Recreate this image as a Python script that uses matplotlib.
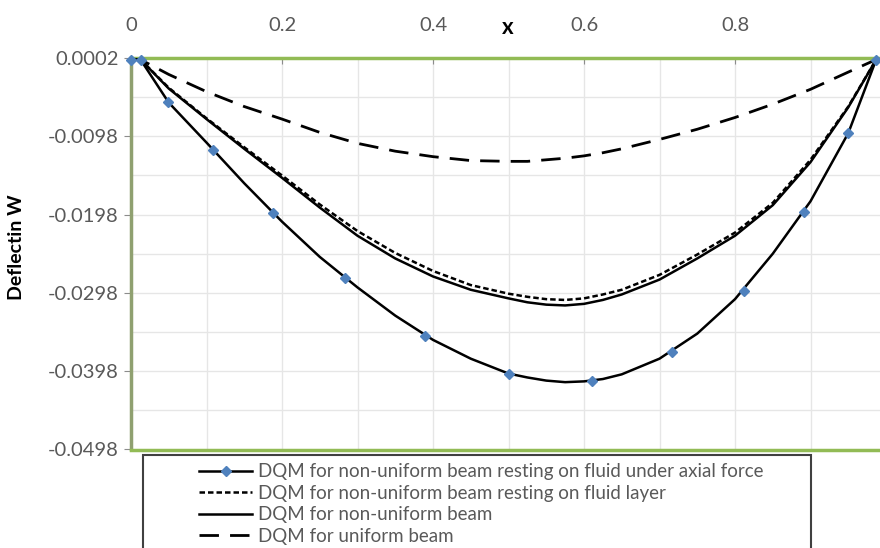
import numpy as np
import matplotlib
matplotlib.use('Agg')
import matplotlib.pyplot as plt
from matplotlib.lines import Line2D
from matplotlib.patches import Rectangle

# DQM grid points (markers of the axial force series)
x_nodes = [0.0, 0.0126, 0.0495, 0.109, 0.188, 0.283, 0.389, 0.5,
           0.611, 0.717, 0.812, 0.891, 0.950, 0.987, 1.0]
w_axial_nodes = [0.0, 0.0, -0.0054, -0.0115, -0.0196, -0.0279, -0.0353, -0.0401,
                 -0.0410, -0.0373, -0.0295, -0.0195, -0.0094, 0.0, 0.0]

# curves read along x
x_line = [0.0, 0.0126, 0.05, 0.1, 0.15, 0.2, 0.25, 0.3, 0.35, 0.4, 0.45, 0.5,
          0.525, 0.55, 0.575, 0.6, 0.625, 0.65, 0.7, 0.75, 0.8, 0.85, 0.9,
          0.95, 0.987, 1.0]
w_axial = [0.0, 0.0, -0.0055, -0.0106, -0.0158, -0.0207, -0.0252, -0.0291, -0.0327,
           -0.0358, -0.0382, -0.0401, -0.0406, -0.0410, -0.0412, -0.0411, -0.0408,
           -0.0402, -0.0382, -0.0350, -0.0306, -0.0248, -0.0181, -0.0094, 0.0, 0.0]
w_fluid = [0.0, 0.0, -0.0036, -0.0075, -0.0112, -0.0148, -0.0185, -0.0219, -0.0247,
           -0.0270, -0.0288, -0.0299, -0.0303, -0.0306, -0.0307, -0.0305, -0.0300,
           -0.0294, -0.0275, -0.0249, -0.0221, -0.0183, -0.0128, -0.0060, 0.0, 0.0]
w_nonuni = [0.0, 0.0, -0.0037, -0.0076, -0.0114, -0.0151, -0.0189, -0.0225, -0.0254,
            -0.0277, -0.0294, -0.0305, -0.0310, -0.0313, -0.0314, -0.0312, -0.0307,
            -0.0300, -0.0281, -0.0254, -0.0225, -0.0186, -0.0131, -0.0061, 0.0, 0.0]
w_uniform = [0.0, 0.0, -0.0019, -0.0041, -0.0060, -0.0076, -0.0093, -0.0107, -0.0117,
             -0.0124, -0.0129, -0.0130, -0.0130, -0.0128, -0.0126, -0.0123, -0.0119,
             -0.0114, -0.0102, -0.0089, -0.0074, -0.0057, -0.0038, -0.0016, 0.0, 0.0]

labels = ['DQM for non-uniform beam resting on fluid under axial force',
          'DQM for non-uniform beam resting on fluid layer',
          'DQM for non-uniform beam',
          'DQM for uniform beam']

x_ticks = [0, 0.2, 0.4, 0.6, 0.8, 1]
x_ticklabels = ['0', '0.2', '0.4', '0.6', '0.8', '1']
y_ticks = [0.0002, -0.0098, -0.0198, -0.0298, -0.0398, -0.0498]
y_ticklabels = ['0.0002', '-0.0098', '-0.0198', '-0.0298', '-0.0398', '-0.0498']

plt.rcParams['font.family'] = ['Lato', 'DejaVu Sans']
green = '#92BB55'
gray_txt = '#595959'
blue = '#4F81BD'

fig = plt.figure(figsize=(8.8, 5.48), dpi=100)
ax = fig.add_axes([131/880, 1 - 449.5/548, 755/880, 391.5/548])

ax.set_xlim(0, 1)
ax.set_ylim(-0.0498, 0.0002)

# grid
for gx in np.arange(0.1, 1.0, 0.1):
    ax.axvline(gx, color='#E6E6E6', lw=1, zorder=0)
for gy in np.arange(-0.0448, 0.0, 0.005):
    ax.axhline(gy, color='#E6E6E6', lw=1, zorder=0)

ax.plot(x_line, w_uniform, color='black', lw=2, dashes=(7, 4), zorder=3)
ax.plot(x_line, w_nonuni, color='black', lw=1.8, zorder=3)
ax.plot(x_line, w_fluid, color='black', lw=1.8, dashes=(2.2, 1.2), zorder=4)
ax.plot(x_line, w_axial, color='black', lw=1.8, zorder=3)
ax.plot(x_nodes, w_axial_nodes, ls='none', marker='D', ms=5.5, color=blue,
        mec=blue, zorder=5, clip_on=False)

ax.xaxis.tick_top()
ax.set_xticks(x_ticks)
ax.set_xticklabels(x_ticklabels)
ax.set_yticks(y_ticks)
ax.set_yticklabels(y_ticklabels)
ax.tick_params(axis='x', direction='in', length=4, pad=17, labelsize=14.5,
               labelcolor=gray_txt, color='#8C8C8C')
ax.tick_params(axis='y', direction='out', length=5, pad=4, labelsize=14.5,
               labelcolor=gray_txt, color='#8C8C8C')

for s in ['top', 'bottom']:
    ax.spines[s].set_color(green)
    ax.spines[s].set_linewidth(2.5)
ax.spines['left'].set_color('#8FA070')
ax.spines['left'].set_linewidth(2.5)
ax.spines['right'].set_visible(False)

fig.text(508/880, 1 - 28/548, 'x', ha='center', va='center', fontsize=16,
         fontweight='bold', color='black')
fig.text(17/880, 1 - 247/548, 'Deflectin W', ha='center', va='center',
         rotation=90, fontsize=14, fontweight='bold', color='black')

# legend with a box drawn separately
handles = [
    Line2D([], [], color='black', lw=1.8, marker='D', ms=5.5, mfc=blue, mec=blue),
    Line2D([], [], color='black', lw=1.8, dashes=(2.2, 1.2)),
    Line2D([], [], color='black', lw=1.8),
    Line2D([], [], color='black', lw=2, dashes=(7, 4)),
]
leg = fig.legend(handles, labels, loc='upper left',
                 bbox_to_anchor=(188/880, 1 - 452/548), frameon=False,
                 fontsize=13.5, handlelength=2.8, handletextpad=0.35,
                 labelspacing=0.24, borderpad=0.1, labelcolor=gray_txt)
fig.add_artist(Rectangle((143/880, -0.1), (811 - 143)/880, 1 - 455/548 + 0.1,
                         transform=fig.transFigure, fill=False,
                         edgecolor='#404040', lw=1.5))

fig.savefig('out.png', dpi=100)
